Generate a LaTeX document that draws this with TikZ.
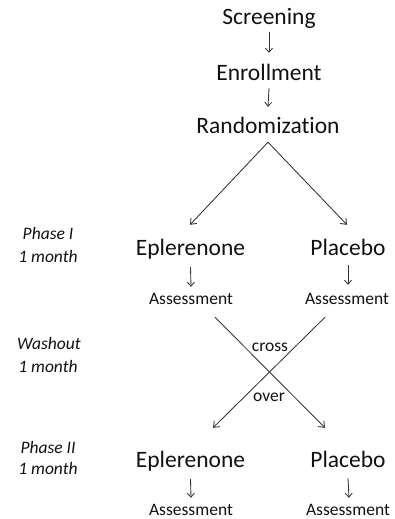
\documentclass[tikz,border=0pt]{standalone}
\usepackage{fontspec}
\setmainfont{Carlito}[Ligatures=NoCommon]
\usetikzlibrary{arrows.meta}
\definecolor{txt}{HTML}{111111}
\definecolor{ln}{HTML}{333333}
\tikzset{
  big/.style={font=\fontsize{23.5}{28}\selectfont, text=txt, inner sep=0pt, text height=16pt, text depth=0pt, anchor=base},
  small/.style={font=\fontsize{17.5}{21}\selectfont, text=txt, inner sep=0pt, text height=11pt, text depth=0pt, anchor=base},
  phase/.style={font=\fontsize{17.5}{21}\selectfont\itshape, text=txt, inner sep=0pt, anchor=base},
  arr/.style={draw=ln, line width=0.85pt, -{Straight Barb[length=5pt,width=8pt]}},
  sarr/.style={draw=ln, line width=0.85pt, -{Straight Barb[length=4pt,width=7pt]}}
}
\begin{document}
\begin{tikzpicture}[x=1pt,y=-1pt]
\useasboundingbox (0,0) rectangle (395,519);
% main column
\node[big] (scr) at (269,25) {Screening};
\node[big] (enr) at (269,81) {Enrollment};
\node[big] (rand) at (268,133) {Randomization};
% phase I
\node[big] (ep1) at (190.5,255) {Eplerenone};
\node[big] (pl1) at (348,255) {Placebo};
\node[small] (as1) at (191,304) {Assessment};
\node[small] (as2) at (347,304) {Assessment};
% phase II
\node[big] (ep2) at (190.5,467) {Eplerenone};
\node[big] (pl2) at (348,467) {Placebo};
\node[small] (as3) at (191,515) {Assessment};
\node[small] (as4) at (348,515) {Assessment};
% cross over labels
\node[small] (cross) at (270,351) {cross};
\node[small] (over) at (269,401) {over};
% left labels
\node[phase] (p1a) at (48,239) {Phase I};
\node[phase] (p1b) at (48,262) {1 month};
\node[phase] (wa) at (49,349) {Washout};
\node[phase] (wb) at (48,372) {1 month};
\node[phase] (p2a) at (48,453) {Phase II};
\node[phase] (p2b) at (48,474) {1 month};
% connectors
\draw[sarr] ([yshift=-7pt]scr.south) -- ([yshift=12pt]enr.north);
\draw[sarr] ([yshift=-7pt]enr.south) -- ([yshift=10pt]rand.north);
\draw[arr] ([yshift=-9pt]rand.south) -- ([xshift=-0.5pt,yshift=14pt]ep1.north);
\draw[arr] ([yshift=-9pt]rand.south) -- ([xshift=-1pt,yshift=14pt]pl1.north);
\draw[sarr] ([yshift=-12pt]ep1.south) -- ([yshift=6pt]as1.north);
\draw[sarr] ([yshift=-10pt]pl1.south) -- ([xshift=1pt,yshift=8pt]as2.north);
\draw[arr] ([xshift=24pt,yshift=-13pt]as1.south) -- ([xshift=-23pt,yshift=23pt]pl2.north);
\draw[arr] ([xshift=-22pt,yshift=-13pt]as2.south) -- ([xshift=22.5pt,yshift=23pt]ep2.north);
\draw[sarr] ([yshift=-12pt]ep2.south) -- ([yshift=6pt]as3.north);
\draw[sarr] ([yshift=-11pt]pl2.south) -- ([xshift=1pt,yshift=6pt]as4.north);
\end{tikzpicture}
\end{document}
